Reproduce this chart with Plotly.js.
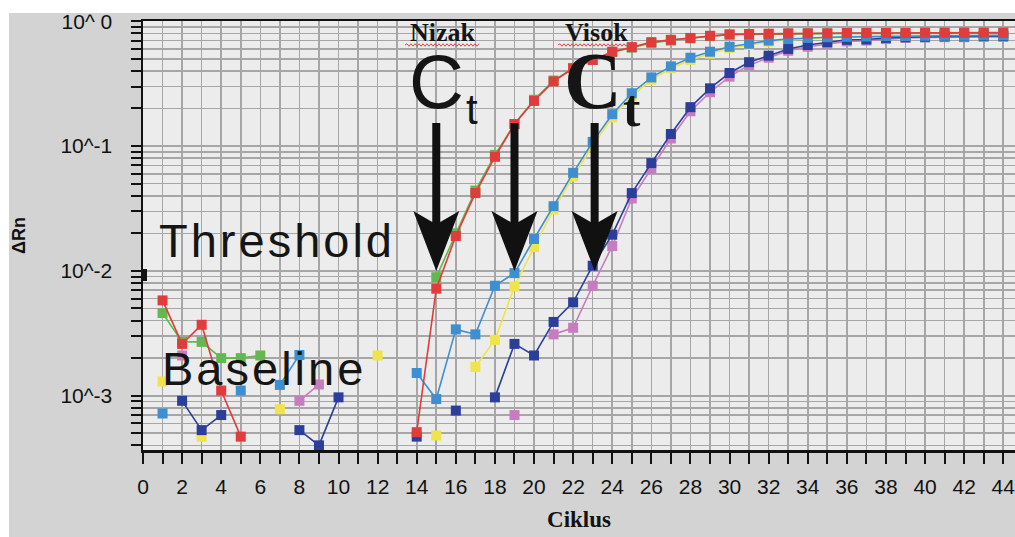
<!DOCTYPE html>
<html>
<head>
<meta charset="utf-8">
<script src="https://cdn.plot.ly/plotly-3.0.1.min.js"></script>
<style>
  html, body { margin: 0; padding: 0; background: #ffffff; width: 1015px; height: 537px; overflow: hidden; }
  #chart { position: absolute; left: 9px; top: 0px; width: 1006px; height: 537px; }
</style>
</head>
<body>
<div id="chart"></div>
<script>
// ---------------- data ----------------
const cycles = [1,2,3,4,5,6,7,8,9,10,11,12,13,14,15,16,17,18,19,20,21,22,23,24,25,26,27,28,29,30,31,32,33,34,35,36,37,38,39,40,41,42,43,44];

const redWell = [0.0058,0.0026,0.0037,0.0011,0.00047,null,null,null,null,null,null,null,null,
  0.00051,0.0072,0.019,0.042,0.082,0.15,0.23,0.33,0.42,0.49,0.57,0.62,0.68,0.71,0.735,0.765,0.785,0.79,0.795,0.80,0.80,0.80,0.805,0.805,0.805,0.805,0.81,0.81,0.81,0.81,0.81];

const greenWell = [0.0046,0.0027,0.0027,0.0020,0.0020,0.0021,null,null,null,null,null,null,null,
  null,0.0089,0.020,0.044,0.085,0.15,0.235,0.335,0.42,0.49,0.565,0.615,0.67,0.70,0.73,0.76,0.78,0.785,0.79,0.795,0.80,0.80,0.80,0.80,0.80,0.80,0.80,0.80,0.80,0.80,0.80];

const lightBlueWell = [0.00072,null,null,null,0.0011,null,0.00122,0.00212,null,null,null,null,null,
  0.00152,0.00094,0.0034,0.0031,0.0076,0.0096,0.018,0.033,0.061,0.108,0.18,0.265,0.355,0.435,0.51,0.57,0.625,0.66,0.70,0.72,0.735,0.745,0.75,0.755,0.76,0.76,0.765,0.765,0.765,0.77,0.77];

const yellowWell = [0.0013,null,0.00047,null,null,null,0.00078,null,null,null,null,0.0021,null,
  null,0.00048,null,0.0017,0.0028,0.0075,0.0155,0.031,0.057,0.10,0.17,0.25,0.34,0.42,0.49,0.55,0.61,0.645,0.685,0.71,0.725,0.735,0.74,0.745,0.75,0.75,0.755,0.755,0.755,0.76,0.76];

const darkBlueWell = [null,0.00091,0.00053,0.0007,null,null,null,0.00053,0.0004,0.00097,null,null,null,
  0.00047,null,0.00076,null,0.00097,0.0026,0.0021,0.0039,0.0056,0.011,0.0195,0.042,0.073,0.125,0.205,0.29,0.385,0.47,0.53,0.60,0.645,0.68,0.71,0.715,0.735,0.745,0.75,0.755,0.755,0.76,0.76];

const pinkWell = [null,0.0021,null,null,null,null,null,0.00091,0.00123,null,null,null,null,
  null,null,null,null,null,0.0007,null,0.0031,0.0035,0.0076,0.0158,0.038,0.066,0.115,0.19,0.27,0.36,0.445,0.51,0.58,0.625,0.66,0.69,0.70,0.72,0.735,0.74,0.745,0.745,0.75,0.75];

const thresholdValue = 0.0093;
const ctCycles = [15, 19, 23.1];

const xTickVals = [0,1,2,3,4,5,6,7,8,9,10,11,12,13,14,15,16,17,18,19,20,21,22,23,24,25,26,27,28,29,30,31,32,33,34,35,36,37,38,39,40,41,42,43,44];
const xTickText = ["0","","2","","4","","6","","8","","10","","12","","14","","16","","18","","20","","22","","24","","26","","28","","30","","32","","34","","36","","38","","40","","42","","44"];
const yDecades = [-4,-3,-2,-1,0];
const yDecadeLabels = ["", "10^-3", "10^-2", "10^-1", "10^ 0"];

// ---------------- geometry helpers ----------------
const DIV_L = 9, DIV_T = 0;
const W = 1006, H = 537;
const M = {l: 134, r: 0, t: 21, b: 87};
const X_MAX = 44.6, Y_MIN = -3.435, Y_MAX = 0.002;
const PX0 = DIV_L + M.l, PX1 = DIV_L + W - M.r, PY0 = DIV_T + M.t, PY1 = DIV_T + H - M.b;
const px = x => (x - PX0) / (PX1 - PX0);
const py = y => (PY1 - y) / (PY1 - PY0);
const cyclePx = c => PX0 + c * (PX1 - PX0) / X_MAX;

// y ticks (every mantissa for the log grid)
const yTickVals = [], yTickText = [];
yDecades.forEach((d, i) => {
  for (let m = 1; m <= 9; m++) {
    const v = m * Math.pow(10, d);
    if (Math.log10(v) >= Y_MIN - 1e-9 && Math.log10(v) <= 1e-9) {
      yTickVals.push(v);
      yTickText.push(m === 1 ? yDecadeLabels[i] : "");
    }
  }
});

// ---------------- traces ----------------
function well(y, color) {
  return {
    x: cycles, y: y, type: 'scatter', mode: 'lines+markers',
    connectgaps: false,
    line: {color: color, width: 1.6},
    marker: {symbol: 'square', size: 10, color: color, line: {width: 0}},
    hoverinfo: 'x+y'
  };
}
const traces = [
  well(pinkWell, '#c77cbf'),
  well(yellowWell, '#f1e44a'),
  well(greenWell, '#63b84f'),
  well(darkBlueWell, '#2c3e9c'),
  well(lightBlueWell, '#3d8fd1'),
  well(redWell, '#e23b3b')
];

// ---------------- shapes ----------------
const shapes = [];
// white strip at the very top of the picture (outside the grey frame)
shapes.push({type: 'rect', xref: 'paper', yref: 'paper',
  x0: px(DIV_L - 1), x1: px(DIV_L + W + 1), y0: py(13), y1: py(-1),
  fillcolor: '#ffffff', line: {width: 0}, layer: 'below'});
// arrows
ctCycles.forEach(c => {
  const cx = cyclePx(c);
  const pts = [
    [cx - 4, 123], [cx + 4, 123], [cx + 4, 222], [cx + 23, 211],
    [cx, 271], [cx - 23, 211], [cx - 4, 222]
  ];
  const path = 'M ' + pts.map(p => px(p[0]).toFixed(5) + ',' + py(p[1]).toFixed(5)).join(' L ') + ' Z';
  shapes.push({type: 'path', xref: 'paper', yref: 'paper', path: path,
    fillcolor: '#111111', line: {width: 0}, layer: 'above'});
});
// threshold line
shapes.push({type: 'line', xref: 'paper', yref: 'y', x0: 0, x1: 1,
  y0: Math.log10(thresholdValue), y1: Math.log10(thresholdValue),
  line: {color: '#111111', width: 2}, layer: 'above'});
// small marker on the axis at threshold
shapes.push({type: 'rect', xref: 'paper', yref: 'paper',
  x0: px(141), x1: px(147), y0: py(281), y1: py(269),
  fillcolor: '#111111', line: {width: 0}, layer: 'above'});
// red wavy underlines (spell-check squiggle)
function squiggle(x0, x1, y) {
  let d = 'M ' + px(x0).toFixed(5) + ',' + py(y).toFixed(5);
  let up = true;
  for (let x = x0 + 2; x <= x1; x += 2) {
    d += ' L ' + px(x).toFixed(5) + ',' + py(y + (up ? -1.2 : 1.2)).toFixed(5);
    up = !up;
  }
  return {type: 'path', xref: 'paper', yref: 'paper', path: d,
    line: {color: '#e04848', width: 1}, layer: 'above'};
}
shapes.push(squiggle(405, 480, 45));
shapes.push(squiggle(558, 632, 45));

// ---------------- annotations ----------------
const sans = 'Liberation Sans, Arial, Helvetica, sans-serif';
const serif = 'Liberation Serif, Times New Roman, serif';
function note(text, x, y, size, family, xanchor) {
  return {text: text, xref: 'paper', yref: 'paper', x: px(x), y: py(y),
    xanchor: xanchor || 'center', yanchor: 'middle', showarrow: false,
    font: {family: family, size: size, color: '#151515'}};
}
const annotations = [
  note('<span style="letter-spacing:3px">Threshold</span>', 157, 241, 47, sans, 'left'),
  note('<span style="letter-spacing:3px">Baseline</span>', 160, 368, 47, sans, 'left'),
  note('C', 436, 81, 76, sans),
  note('t', 472, 110, 42, sans),
  note('<b>C</b>', 593, 81, 80, serif),
  note('<b>t</b>', 632, 108, 52, serif),
  note('<b>Nizak</b>', 443, 32, 26, serif),
  note('<b>Visok</b>', 596, 32, 26, serif)
];

// ---------------- layout ----------------
const layout = {
  width: W, height: H,
  margin: M,
  paper_bgcolor: '#d3d3d3',
  plot_bgcolor: '#ececec',
  showlegend: false,
  font: {family: sans, color: '#111111'},
  xaxis: {
    range: [0, X_MAX], tickmode: 'array', tickvals: xTickVals, ticktext: xTickText,
    ticks: 'outside', ticklen: 11, tickwidth: 2, tickcolor: '#111111',
    showline: true, linecolor: '#111111', linewidth: 2.5, mirror: true,
    showgrid: true, gridcolor: '#a6a6a6', gridwidth: 1.6, zeroline: false,
    tickfont: {family: sans, size: 21, color: '#111111'},
    ticklabelstandoff: 5, ticklabeloverflow: 'allow',
    title: {text: '<b>Ciklus</b>', font: {family: serif, size: 23, color: '#111111'}, standoff: 14},
    automargin: false, fixedrange: true
  },
  yaxis: {
    type: 'log', range: [Y_MIN, Y_MAX], tickmode: 'array', tickvals: yTickVals, ticktext: yTickText,
    ticks: 'outside', ticklen: 10, tickwidth: 2, tickcolor: '#111111',
    showline: true, linecolor: '#111111', linewidth: 2.5, mirror: false,
    showgrid: true, gridcolor: '#a6a6a6', gridwidth: 1.6, zeroline: false,
    tickfont: {family: sans, size: 21, color: '#111111'},
    ticklabelstandoff: 14, ticklabeloverflow: 'allow',
    title: {text: '<b>ΔRn</b>', font: {family: sans, size: 18, color: '#111111'}, standoff: 44},
    automargin: false, fixedrange: true
  },
  shapes: shapes,
  annotations: annotations
};

Plotly.newPlot('chart', traces, layout, {displayModeBar: false, staticPlot: true});
</script>
</body>
</html>
